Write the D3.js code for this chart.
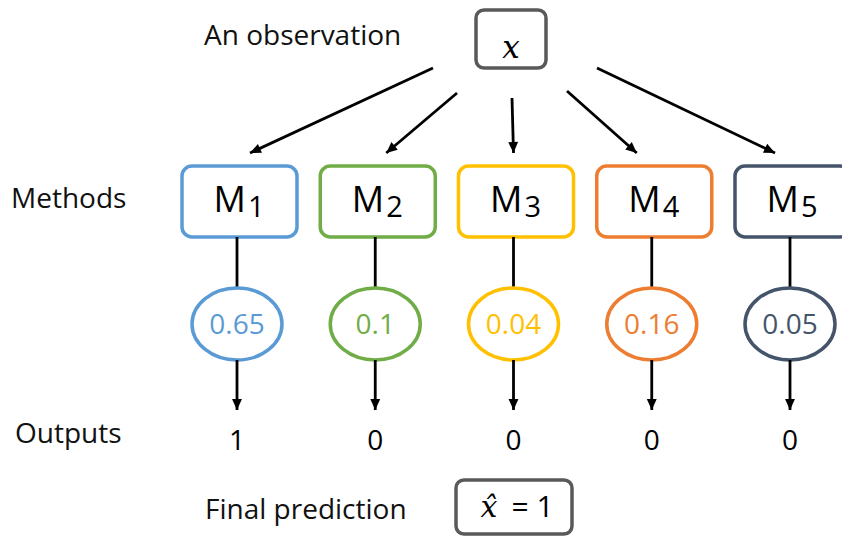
<!DOCTYPE html>
<html><head><meta charset="utf-8">
<script src="https://cdn.jsdelivr.net/npm/d3@7"></script>
<style>html,body{margin:0;padding:0;background:#fff;}svg{display:block;}</style>
</head><body>
<svg id="chart" width="842" height="536"></svg>
<script>
// ---- data ----
const methods = ["1", "2", "3", "4", "5"];
const probabilities = [0.65, 0.1, 0.04, 0.16, 0.05];
const outputs = [1, 0, 0, 0, 0];
const colors = ["#5B9BD5", "#70AD47", "#FFC000", "#ED7D31", "#44546A"];
const rowLabels = ["An observation", "Methods", "Outputs", "Final prediction"];
const finalPrediction = 1;

// ---- layout ----
const W = 842, H = 536;
const svg = d3.select("#chart");
const font = "'Open Sans', sans-serif";
const col = d3.scalePoint().domain(methods).range([237, 790]);

const defs = svg.append("defs");
defs.append("marker").attr("id", "ah").attr("viewBox", "0 0 10 10")
  .attr("refX", 10).attr("refY", 5).attr("markerUnits", "userSpaceOnUse")
  .attr("markerWidth", 12).attr("markerHeight", 11).attr("orient", "auto")
  .append("path").attr("d", "M0,0.5 L10,5 L0,9.5 Z").attr("fill", "#000");

// top observation box
svg.append("rect").attr("x", 476).attr("y", 10).attr("width", 70).attr("height", 58)
  .attr("rx", 8).attr("fill", "#fff").attr("stroke", "#595959").attr("stroke-width", 3.5);
svg.append("text").attr("x", 511).attr("y", 58).attr("text-anchor", "middle")
  .attr("font-family", "'DejaVu Serif', serif").attr("font-style", "italic")
  .attr("font-size", 31).text("x");

// row labels
svg.append("text").attr("x", 204).attr("y", 45).attr("font-family", font).attr("font-size", 28)
  .attr("fill", "#111").text(rowLabels[0]);
svg.append("text").attr("x", 11).attr("y", 208).attr("font-family", font).attr("font-size", 28)
  .attr("fill", "#111").text(rowLabels[1]);
svg.append("text").attr("x", 15).attr("y", 443).attr("font-family", font).attr("font-size", 28)
  .attr("fill", "#111").text(rowLabels[2]);
svg.append("text").attr("x", 205).attr("y", 519).attr("font-family", font).attr("font-size", 28)
  .attr("fill", "#111").text(rowLabels[3]);

// fan arrows from the observation to each method
const fanStart = [[433, 68], [457, 93], [512, 98], [567, 91], [597, 68]];
const fanEndDx = [13, 11, 0, -15, -15];
svg.append("g").selectAll("line").data(methods).join("line")
  .attr("x1", (d, i) => fanStart[i][0]).attr("y1", (d, i) => fanStart[i][1])
  .attr("x2", (d, i) => col(d) + fanEndDx[i]).attr("y2", 153)
  .attr("stroke", "#000").attr("stroke-width", 2.8).attr("marker-end", "url(#ah)");

// method boxes
const g = svg.append("g").selectAll("g").data(methods).join("g")
  .attr("transform", d => `translate(${col(d)},0)`);
g.append("rect").attr("x", -55).attr("y", 166).attr("width", 115).attr("height", 71)
  .attr("rx", 10).attr("fill", "#fff")
  .attr("stroke", (d, i) => colors[i]).attr("stroke-width", 3.5);
const mt = g.append("text").attr("x", 2).attr("y", 212).attr("text-anchor", "middle")
  .attr("font-family", font).attr("fill", "#000");
mt.append("tspan").attr("font-size", 36).text("M");
mt.append("tspan").attr("font-size", 29).attr("dy", 5).attr("dx", 2).text(d => d);

// line box -> ellipse
g.append("line").attr("x1", 0).attr("x2", 0).attr("y1", 237).attr("y2", 288)
  .attr("stroke", "#000").attr("stroke-width", 2.8);
// ellipses
g.append("ellipse").attr("cx", 0).attr("cy", 324).attr("rx", 45).attr("ry", 36)
  .attr("fill", "#fff").attr("stroke", (d, i) => colors[i]).attr("stroke-width", 3.5);
g.append("text").attr("x", 0).attr("y", 334).attr("text-anchor", "middle")
  .attr("font-family", font).attr("font-size", 28)
  .attr("fill", (d, i) => colors[i]).text((d, i) => probabilities[i]);
// arrow ellipse -> output
g.append("line").attr("x1", 0).attr("x2", 0).attr("y1", 360).attr("y2", 410)
  .attr("stroke", "#000").attr("stroke-width", 2.8).attr("marker-end", "url(#ah)");
// outputs
g.append("text").attr("x", 0).attr("y", 450).attr("text-anchor", "middle")
  .attr("font-family", font).attr("font-size", 28).attr("fill", "#000")
  .text((d, i) => outputs[i]);

// final prediction box
svg.append("rect").attr("x", 456).attr("y", 480).attr("width", 116).attr("height", 54)
  .attr("rx", 8).attr("fill", "#fff").attr("stroke", "#595959").attr("stroke-width", 3.5);
svg.append("text").attr("x", 489).attr("y", 517).attr("text-anchor", "middle")
  .attr("font-family", "'DejaVu Serif', serif").attr("font-style", "italic")
  .attr("font-size", 30).attr("fill", "#000").text("x\u0302");
svg.append("text").attr("x", 520).attr("y", 517).attr("text-anchor", "middle")
  .attr("font-family", font).attr("font-size", 30).attr("fill", "#000").text("=");
svg.append("text").attr("x", 545).attr("y", 517).attr("text-anchor", "middle")
  .attr("font-family", font).attr("font-size", 30).attr("fill", "#000").text(finalPrediction);
</script>
</body></html>
